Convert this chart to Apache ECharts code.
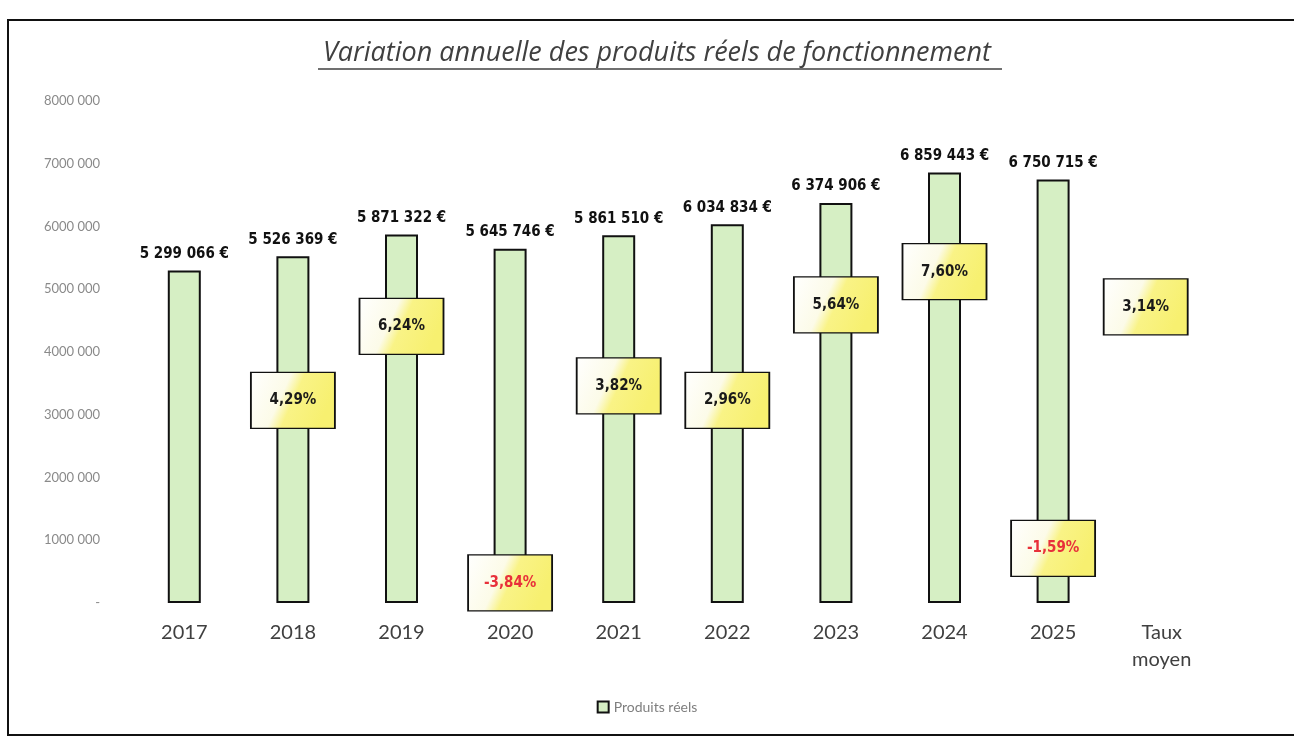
<!DOCTYPE html>
<html>
<head>
<meta charset="utf-8">
<script src="https://cdn.jsdelivr.net/npm/echarts@6/dist/echarts.min.js"></script>
<style>
html,body{margin:0;padding:0;background:#fff;}
#main{width:1294px;height:737px;}
</style>
</head>
<body>
<div id="main"></div>
<script>
// données
var categories=['2017','2018','2019','2020','2021','2022','2023','2024','2025','Taux\nmoyen'];
var produits=[5299066,5526369,5871322,5645746,5861510,6034834,6374906,6859443,6750715,null];
var taux=[null,'4,29%','6,24%','-3,84%','3,82%','2,96%','5,64%','7,60%','-1,59%','3,14%'];
// hauteur (en unités de l'axe) où sont posées les étiquettes de taux
var tauxNiveau=[null,3230000,4410000,320000,3460000,3230000,4750000,5280000,870000,4720000];

function fmtEuro(v){
    return String(v).replace(/\B(?=(\d{3})+(?!\d))/g,' ')+' €';
}
function fmtAxis(v){
    if(v===0) return '-';
    var s=String(v);
    return s.slice(0,s.length-3)+' '+s.slice(-3);
}

var chart=echarts.init(document.getElementById('main'));
var narrow="'Liberation Sans Narrow','DejaVu Sans Condensed',sans-serif";

var tauxData=taux.map(function(t,i){
    if(t===null) return null;
    var d={
        value:[categories[i],tauxNiveau[i]],
        label:{color:t.charAt(0)==='-'?'#e8303a':'#1a1a1a'}
    };
    if(i===categories.length-1) d.symbolOffset=[-16,0];
    return d;
});

var option={
    backgroundColor:'#fff',
    animation:false,
    title:{
        text:'Variation annuelle des produits réels de fonctionnement',
        left:318,
        top:35,
        textStyle:{fontFamily:'Open Sans',fontStyle:'italic',fontWeight:'normal',fontSize:27,color:'#404040'}
    },
    legend:{
        bottom:18,
        left:'center',
        data:[{name:'Produits réels',icon:'rect'}],
        itemWidth:11,
        itemHeight:11,
        itemGap:4,
        itemStyle:{borderWidth:2,borderColor:'#111'},
        textStyle:{fontFamily:'Lato',fontSize:14,color:'#7f7f7f'}
    },
    grid:{left:130,right:78,top:101,bottom:134},
    xAxis:{
        type:'category',
        data:categories,
        axisLine:{show:false},
        axisTick:{show:false},
        axisLabel:{fontFamily:'Lato',fontSize:20,color:'#404040',margin:16,lineHeight:27}
    },
    yAxis:{
        type:'value',
        min:0,
        max:8000000,
        interval:1000000,
        splitLine:{show:false},
        axisLine:{show:false},
        axisTick:{show:false},
        axisLabel:{fontFamily:'Lato',fontSize:13,color:'#8a8a8a',margin:30,formatter:fmtAxis}
    },
    graphic:[
        {type:'rect',shape:{x:8,y:20,width:1300,height:715},style:{fill:'none',stroke:'#111',lineWidth:2}},
        {type:'line',shape:{x1:318,y1:69,x2:1002,y2:69},style:{stroke:'#404040',lineWidth:1.5}}
    ],
    series:[
        {
            name:'Produits réels',
            type:'bar',
            data:produits,
            barWidth:33,
            itemStyle:{color:'#d6efc4',borderColor:'#111',borderWidth:2},
            label:{
                show:true,
                position:'top',
                distance:9,
                formatter:function(p){return fmtEuro(p.value);},
                fontFamily:narrow,
                fontWeight:'bold',
                fontSize:15,
                color:'#111'
            }
        },
        {
            name:'Taux',
            type:'scatter',
            data:tauxData,
            symbol:'rect',
            symbolSize:[84,56],
            z:5,
            itemStyle:{
                opacity:1,
                borderColor:'#111',
                borderWidth:1.5,
                color:new echarts.graphic.LinearGradient(0,0,1,0.3,[
                    {offset:0,color:'#ffffff'},
                    {offset:0.45,color:'#fcfbe8'},
                    {offset:0.6,color:'#f9f386'},
                    {offset:1,color:'#f7f070'}
                ])
            },
            label:{
                show:true,
                position:'inside',
                formatter:function(p){return taux[p.dataIndex];},
                fontFamily:narrow,
                fontWeight:'bold',
                fontSize:15
            },
            emphasis:{disabled:true}
        }
    ]
};
chart.setOption(option);
</script>
</body>
</html>
